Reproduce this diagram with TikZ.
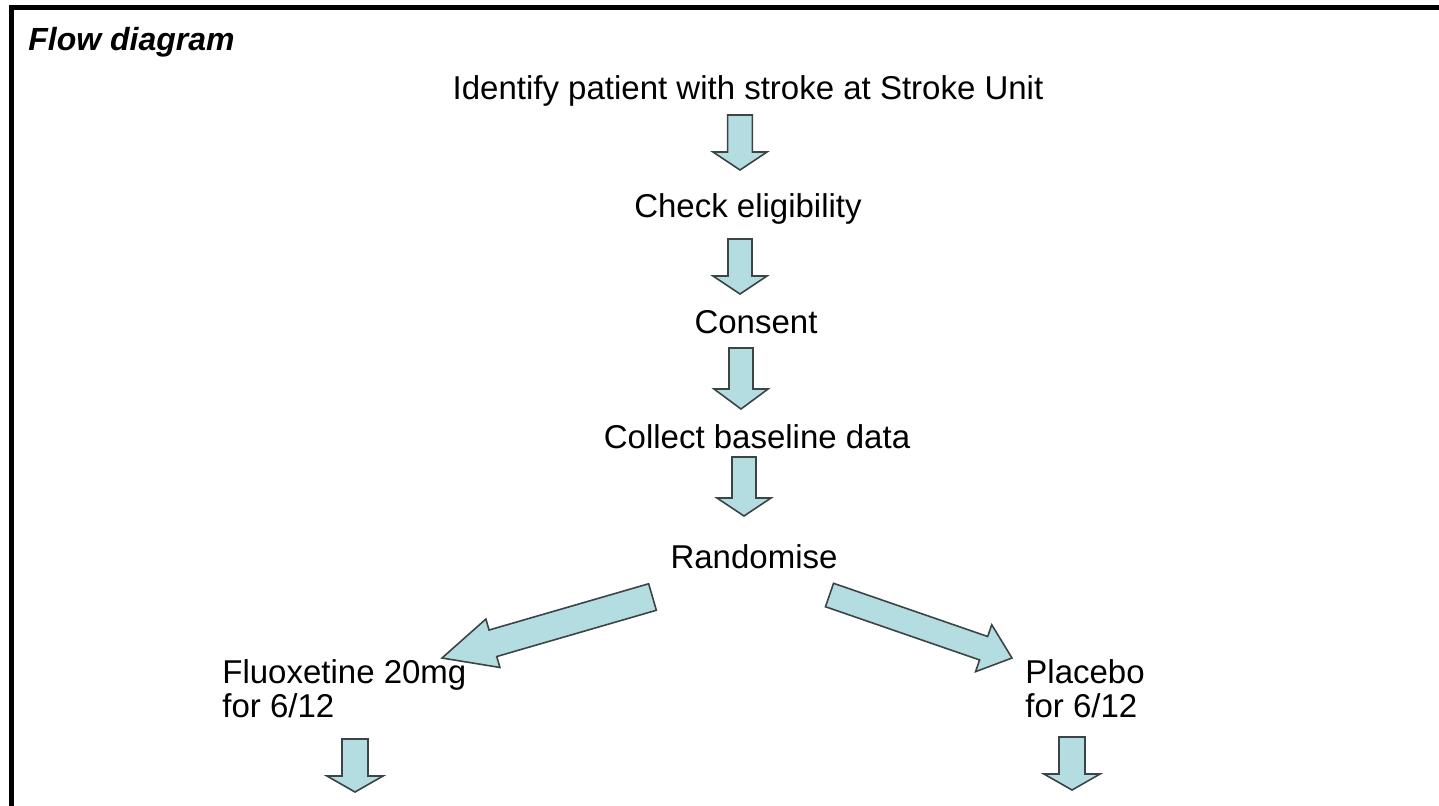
\documentclass[tikz,border=0pt]{standalone}
\usepackage{fontspec}
\setmainfont{Liberation Sans}
\usetikzlibrary{calc}
\definecolor{arrowfill}{RGB}{180,221,226}
\definecolor{arrowline}{RGB}{60,68,70}
\tikzset{
  lbl/.style={font=\fontsize{16.5}{17}\selectfont, inner sep=0pt, anchor=base},
  sidelbl/.style={font=\fontsize{16.5}{17}\selectfont, inner sep=0pt, anchor=base west, align=left},
  ttl/.style={font=\fontsize{16}{19}\selectfont\bfseries\itshape, inner sep=0pt, anchor=base west},
  barrow/.style={fill=arrowfill, draw=arrowline, line width=0.8pt, line join=miter},
  frameline/.style={line width=2.5pt, line join=miter}
}
% #1 tail, #2 tip, #3 shaft half width, #4 head half width, #5 head length
\newcommand\blockarrow[5]{%
  \coordinate (ba-h) at ($(#2)!#5!(#1)$);
  \filldraw[barrow] ($(#1)!#3!90:(#2)$) -- ($(ba-h)!#3!90:(#2)$) -- ($(ba-h)!#4!90:(#2)$)
    -- (#2) -- ($(ba-h)!#4!-90:(#2)$) -- ($(ba-h)!#3!-90:(#2)$) -- ($(#1)!#3!-90:(#2)$) -- cycle;
}
\begin{document}
\begin{tikzpicture}[x=0.5pt,y=-0.5pt]
\useasboundingbox (0,0) rectangle (1439,805);
\fill[white] (0,0) rectangle (1439,805);
\draw[frameline] (11.5,810) -- (11.5,7.5) -- (1445,7.5);

\node[ttl] (title) at (28,50) {Flow diagram};
\node[lbl] (identify) at (748,99) {Identify patient with stroke at Stroke Unit};
\node[lbl] (check) at (748,217) {Check eligibility};
\node[lbl] (consent) at (756,333) {Consent};
\node[lbl] (collect) at (757,448) {Collect baseline data};
\node[lbl] (random) at (754,568) {Randomise};
\node[sidelbl] (fluo) at (222,717) {Fluoxetine 20mg\\for 6/12};
\node[sidelbl] (placebo) at (1025,717) {Placebo\\for 6/12};

\coordinate (a1s) at (740,115); \coordinate (a1e) at (740,170);
\coordinate (a2s) at (740,239); \coordinate (a2e) at (740,294);
\coordinate (a3s) at (741,348); \coordinate (a3e) at (741,409);
\coordinate (a4s) at (744,457); \coordinate (a4e) at (744,516);
\coordinate (aLs) at (652.5,597); \coordinate (aLe) at (442,658);
\coordinate (aRs) at (829.5,595); \coordinate (aRe) at (1012,658);
\coordinate (b1s) at (355,739); \coordinate (b1e) at (355,792);
\coordinate (b2s) at (1072,737); \coordinate (b2e) at (1072,790);

\blockarrow{a1s}{a1e}{6.2pt}{13.5pt}{9pt}
\blockarrow{a2s}{a2e}{6.0pt}{13.5pt}{9pt}
\blockarrow{a3s}{a3e}{6.0pt}{13.5pt}{10pt}
\blockarrow{a4s}{a4e}{6.0pt}{13.5pt}{9pt}
\blockarrow{aLs}{aLe}{6.9pt}{12.6pt}{26.5pt}
\blockarrow{aRs}{aRe}{6.2pt}{12.4pt}{15pt}
\blockarrow{b1s}{b1e}{6.5pt}{14pt}{8pt}
\blockarrow{b2s}{b2e}{6.5pt}{14pt}{8pt}
\end{tikzpicture}
\end{document}
